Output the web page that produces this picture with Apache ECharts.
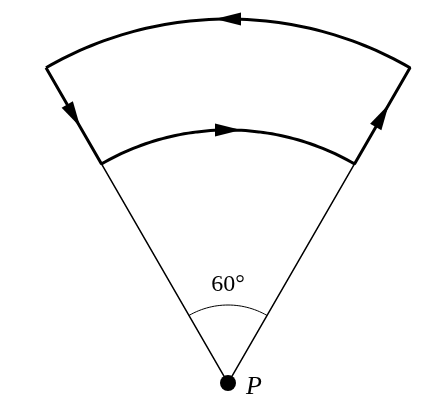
<!DOCTYPE html>
<html><head><meta charset="utf-8">
<script src="https://cdn.jsdelivr.net/npm/echarts@6/dist/echarts.min.js"></script>
<style>html,body{margin:0;background:#fff}#c{width:448px;height:420px}</style>
</head><body><div id="c"></div>
<script>
var innerR = 253, outerR = 364, angleR = 78;
var spanDeg = 60;
var angleLabel = '60°', pointLabel = 'P';
function arc(r, n){var a=[];for(var i=0;i<=n;i++)a.push([r, spanDeg*i/n]);return a;}
var loop = [[outerR,0],[innerR,0]].concat(arc(innerR,60)).concat([[outerR,spanDeg]]).concat(arc(outerR,60).reverse());
var chart = echarts.init(document.getElementById('c'));
var lineBase = {type:'line',coordinateSystem:'polar',symbol:'none',silent:true,animation:false,clip:false};
var axisMax = 400;
chart.setOption({
  animation:false,
  polar:{center:[228,383],radius:axisMax},
  radiusAxis:{min:0,max:axisMax,show:false,axisLine:{show:false},splitLine:{show:false},axisLabel:{show:false},axisTick:{show:false}},
  angleAxis:{type:'value',min:0,max:360,startAngle:120,clockwise:true,show:false,splitLine:{show:false},axisLine:{show:false},axisLabel:{show:false},axisTick:{show:false}},
  series:[
    Object.assign({},lineBase,{data:loop,lineStyle:{color:'#000',width:3},z:3}),
    Object.assign({},lineBase,{data:[[innerR,0],[0,0],[innerR,spanDeg]],lineStyle:{color:'#000',width:1.5}}),
    Object.assign({},lineBase,{data:arc(angleR,30),lineStyle:{color:'#000',width:1}}),
    {type:'scatter',coordinateSystem:'polar',silent:true,symbol:'triangle',symbolSize:[13,26],itemStyle:{color:'#000',opacity:1},z:5,
     data:[
      {value:[outerR,spanDeg/2],symbolRotate:90},
      {value:[innerR,spanDeg/2],symbolRotate:270},
      {value:[(innerR+outerR)/2,0],symbolRotate:210},
      {value:[(innerR+outerR)/2,spanDeg],symbolRotate:330}
     ]},
    {type:'scatter',coordinateSystem:'polar',silent:true,symbol:'circle',symbolSize:16,itemStyle:{color:'#000',opacity:1},data:[[0,0]],
     label:{show:true,position:'right',distance:10,formatter:pointLabel,color:'#000',fontFamily:'Liberation Serif',fontStyle:'italic',fontSize:26,offset:[0,4]}},
    {type:'scatter',coordinateSystem:'polar',silent:true,symbolSize:0,itemStyle:{opacity:1},data:[[angleR+20,spanDeg/2]],
     label:{show:true,position:'inside',formatter:angleLabel,color:'#000',fontFamily:'Liberation Serif',fontSize:24}}
  ]
});
</script></body></html>
